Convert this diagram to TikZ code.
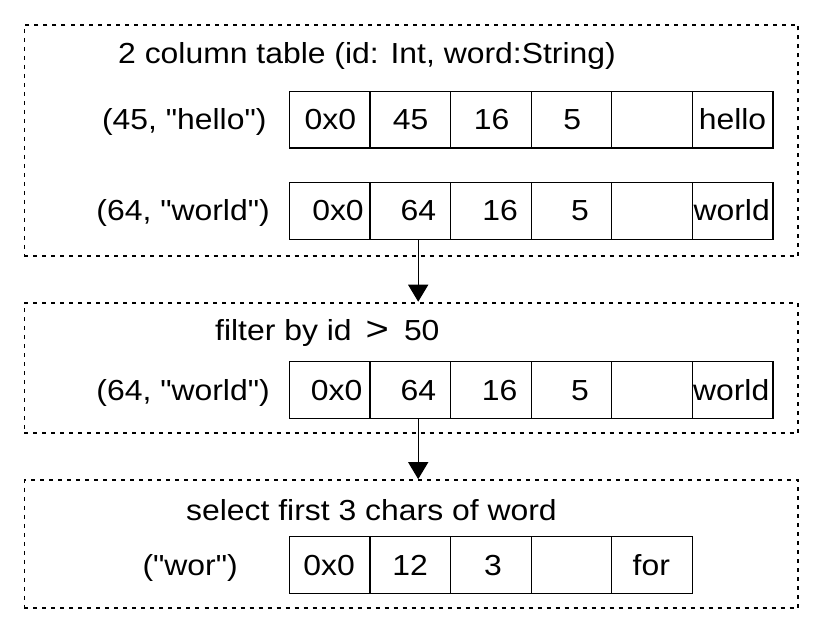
\documentclass[tikz,border=0pt]{standalone}
\usepackage{fontspec}
\newfontfamily\diagfont{Liberation Sans}[FakeStretch=1.1]
\usetikzlibrary{arrows.meta}
\tikzset{
  dbox/.style={draw, line width=1.8bp, dash pattern=on 4bp off 5bp, inner sep=0pt},
  cell/.style={draw, line width=1.2bp, minimum width=80.6bp, minimum height=56.5bp, inner sep=0pt},
  txt/.style={inner sep=0pt, anchor=base, font=\diagfont\fontsize{29bp}{34bp}\selectfont},
  lbl/.style={inner sep=0pt, anchor=base east, font=\diagfont\fontsize{29bp}{34bp}\selectfont},
  ttl/.style={inner sep=0pt, anchor=base west, font=\diagfont\fontsize{29bp}{34bp}\selectfont},
  arr/.style={line width=1.3bp, -{Triangle[width=20bp,length=17bp]}}
}
\begin{document}
\begin{tikzpicture}[x=1bp,y=-1bp]
\useasboundingbox (0,0) rectangle (822,633);
% dashed boxes
\node[dbox, minimum width=773.5bp, minimum height=231bp] (box1) at (411.25,140.5) {};
\node[dbox, minimum width=773.5bp, minimum height=130.5bp] (box2) at (411.25,367.9) {};
\node[dbox, minimum width=773.5bp, minimum height=128.3bp] (box3) at (411.25,544.2) {};
% titles
\node[ttl] (t1) at (118,63.3) {2 column table (id: Int, word:String)};
\node[ttl] (t2) at (215,340) {filter by id\hspace{14bp}\scalebox{1.25}[1.15]{>}\hspace{15bp}50};
\node[ttl] (t3) at (186,520) {select first 3 chars of word};
% cells
\foreach \i/\x in {1/329.6,2/410.2,3/490.8,4/571.4,5/652,6/732.6}{
  \node[cell] (a\i) at (\x,119.7) {};
  \node[cell] (b\i) at (\x,210.9) {};
  \node[cell] (c\i) at (\x,390) {};
}
\foreach \i/\x in {1/329.6,2/410.2,3/490.8,4/571.4,5/652}{
  \node[cell] (d\i) at (\x,565) {};
}
% labels
\node[lbl] (la) at (266.7,129.7) {(45, "hello")};
\node[lbl] (lb) at (270,220.9) {(64, "world")};
\node[lbl] (lc) at (270,400) {(64, "world")};
\node[lbl] (ld) at (238,575) {("wor")};
% row a texts
\node[txt] (ta1) at (330.3,129.7) {0x0};
\node[txt] (ta2) at (410.5,129.7) {45};
\node[txt] (ta3) at (491.5,129.7) {16};
\node[txt] (ta4) at (572.3,129.7) {5};
\node[txt] (ta6) at (732.5,129.7) {hello};
% row b texts
\node[txt] (tb1) at (338,220.9) {0x0};
\node[txt] (tb2) at (418.3,220.9) {64};
\node[txt] (tb3) at (500,220.9) {16};
\node[txt] (tb4) at (580,220.9) {5};
\node[txt] (tb6) at (731.7,220.9) {world};
% row c texts
\node[txt] (tc1) at (336.7,400) {0x0};
\node[txt] (tc2) at (418.3,400) {64};
\node[txt] (tc3) at (499.5,400) {16};
\node[txt] (tc4) at (580,400) {5};
\node[txt] (tc6) at (731.2,400) {world};
% row d texts
\node[txt] (td1) at (329.2,575) {0x0};
\node[txt] (td2) at (410,575) {12};
\node[txt] (td3) at (493,575) {3};
\node[txt] (td5) at (651.3,575) {for};
% arrows
\draw[arr] ([xshift=8bp]b2.south) -- ([xshift=8bp]b2.south |- box2.north);
\draw[arr] ([xshift=8bp]c2.south) -- ([xshift=8bp]c2.south |- box3.north);
\end{tikzpicture}
\end{document}
